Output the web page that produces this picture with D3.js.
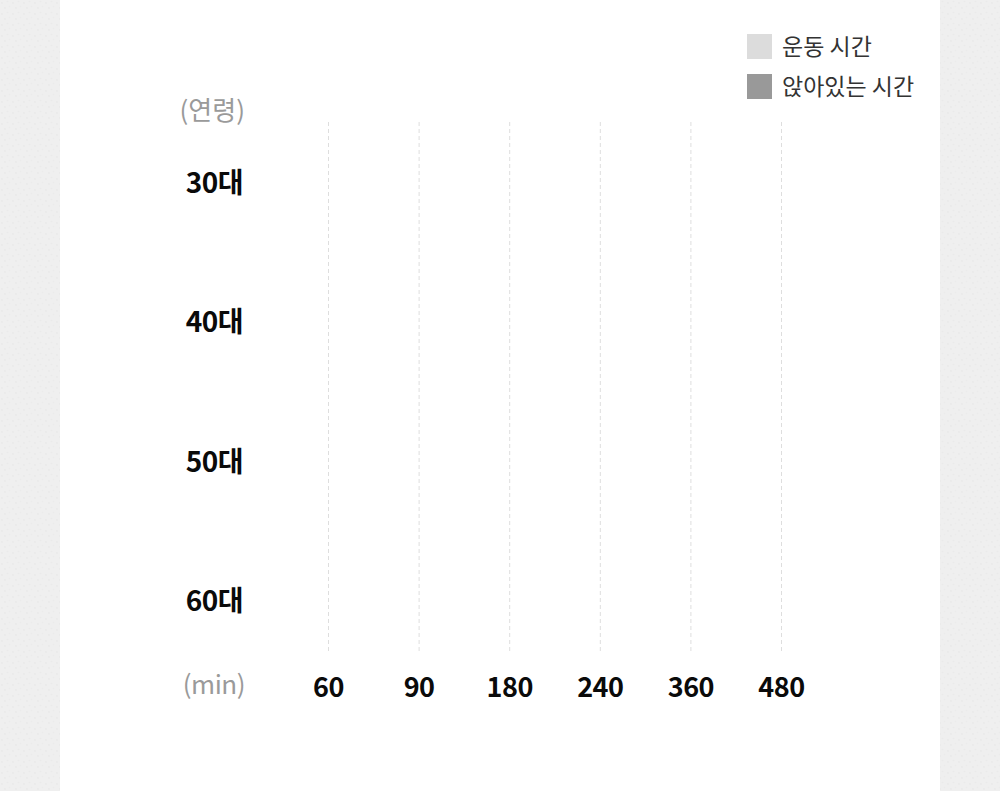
<!DOCTYPE html>
<html>
<head>
<meta charset="utf-8">
<script src="https://cdn.jsdelivr.net/npm/d3@7"></script>
<style>
  html, body { margin: 0; padding: 0; background: #efefef; }
  svg { display: block; }
</style>
</head>
<body>
<svg id="chart" width="1000" height="791"></svg>
<script>
// --- data ---
var ageGroups = ["30대", "40대", "50대", "60대"];
var minuteTicks = ["60", "90", "180", "240", "360", "480"];
// bars have not grown in the picture yet, so every value reads as 0
var exerciseMinutes = [0, 0, 0, 0];
var sittingMinutes = [0, 0, 0, 0];
var legendNames = ["운동 시간", "앉아있는 시간"];

var font = "'Noto Sans CJK KR', 'Noto Sans', sans-serif";
var colors = { exercise: "#dcdcdc", sitting: "#999999" };

var width = 1000, height = 791;
var svg = d3.select("#chart");

// dotted paper background on the sides
var defs = svg.append("defs");
var pat = defs.append("pattern")
	.attr("id", "paper")
	.attr("width", 11)
	.attr("height", 11)
	.attr("patternUnits", "userSpaceOnUse");
pat.append("rect").attr("width", 11).attr("height", 11).attr("fill", "#efefef");
pat.append("circle").attr("cx", 2).attr("cy", 3).attr("r", 0.9).attr("fill", "#e9e9e9");
pat.append("circle").attr("cx", 7.5).attr("cy", 1.5).attr("r", 0.8).attr("fill", "#eaeaea");
pat.append("circle").attr("cx", 5).attr("cy", 8).attr("r", 0.9).attr("fill", "#e9e9e9");
pat.append("circle").attr("cx", 9.5).attr("cy", 6.5).attr("r", 0.7).attr("fill", "#ebebeb");

svg.append("rect").attr("width", width).attr("height", height).attr("fill", "url(#paper)");
svg.append("rect").attr("x", 60).attr("y", 0).attr("width", 880).attr("height", height).attr("fill", "#fff");

// --- scales ---
var x = d3.scalePoint()
	.domain(minuteTicks)
	.range([328, 781]);

var y = d3.scalePoint()
	.domain(ageGroups)
	.range([182, 600]);

// value -> pixel width along the minute axis (ticks are evenly spaced)
var barX = d3.scaleLinear()
	.domain([0, 60])
	.range([246, 328]);

// gridlines
svg.append("g")
	.selectAll("line")
	.data(minuteTicks)
	.enter()
	.append("line")
	.attr("x1", function(d) { return x(d) + 0.5; })
	.attr("x2", function(d) { return x(d) + 0.5; })
	.attr("y1", 122)
	.attr("y2", 652)
	.attr("stroke", "#dedede")
	.attr("stroke-width", 1)
	.attr("stroke-dasharray", "4,3");

// bars (zero length in the reference)
var bars = svg.append("g");
ageGroups.forEach(function(age, i) {
	bars.append("rect")
		.attr("x", barX(0))
		.attr("y", y(age) - 28)
		.attr("width", barX(sittingMinutes[i]) - barX(0))
		.attr("height", 22)
		.attr("fill", colors.sitting);
	bars.append("rect")
		.attr("x", barX(0))
		.attr("y", y(age) - 4)
		.attr("width", barX(exerciseMinutes[i]) - barX(0))
		.attr("height", 22)
		.attr("fill", colors.exercise);
});

// y axis labels
svg.append("g")
	.selectAll("text")
	.data(ageGroups)
	.enter()
	.append("text")
	.attr("x", 243)
	.attr("y", function(d) { return y(d) + 11; })
	.attr("text-anchor", "end")
	.attr("fill", "#0a0a0a")
	.style("font-family", font)
	.style("font-weight", "700")
	.style("font-size", "28px")
	.style("letter-spacing", "-0.5px")
	.text(function(d) { return d; });

// x axis labels
svg.append("g")
	.selectAll("text")
	.data(minuteTicks)
	.enter()
	.append("text")
	.attr("x", function(d) { return x(d) + 0.5; })
	.attr("y", 697)
	.attr("text-anchor", "middle")
	.attr("fill", "#0a0a0a")
	.style("font-family", font)
	.style("font-weight", "700")
	.style("font-size", "27px")
	.style("letter-spacing", "-0.5px")
	.text(function(d) { return d; });

// axis units
svg.append("text")
	.attr("x", 245)
	.attr("y", 120)
	.attr("text-anchor", "end")
	.attr("fill", "#9a9a9a")
	.style("font-family", font)
	.style("font-size", "26px")
	.text("(연령)");

svg.append("text")
	.attr("x", 245)
	.attr("y", 694)
	.attr("text-anchor", "end")
	.attr("fill", "#9a9a9a")
	.style("font-family", font)
	.style("font-size", "26px")
	.style("letter-spacing", "-0.5px")
	.text("(min)");

// legend
var legend = svg.append("g").attr("transform", "translate(747,34)");
var legendColors = [colors.exercise, colors.sitting];
legendNames.forEach(function(name, i) {
	legend.append("rect")
		.attr("x", 0)
		.attr("y", i * 40)
		.attr("width", 25)
		.attr("height", 25)
		.attr("fill", legendColors[i]);
	legend.append("text")
		.attr("x", 35)
		.attr("y", i * 40 + 21)
		.attr("fill", "#333")
		.style("font-family", font)
		.style("font-size", "23px")
		.text(name);
});
</script>
</body>
</html>
